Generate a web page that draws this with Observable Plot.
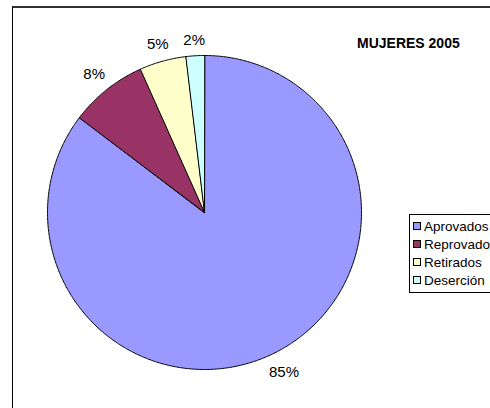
<!DOCTYPE html>
<html><head><meta charset="utf-8">
<script src="https://cdn.jsdelivr.net/npm/d3@7"></script>
<script src="https://cdn.jsdelivr.net/npm/@observablehq/plot@0.6"></script>
<style>
body{margin:0;background:#fff;overflow:hidden;font-family:"Liberation Sans",Arial,sans-serif;}
#wrap{position:relative;width:490px;height:408px;overflow:hidden;background:#fff;}
#wrap svg{position:absolute;left:0;top:0;}
#frame{position:absolute;left:12px;top:6px;width:600px;height:600px;border-left:1px solid #000;border-top:2px solid #333;}
#title{position:absolute;left:357px;top:35px;font-size:14px;font-weight:bold;line-height:16px;white-space:nowrap;color:#000;}
#legend{position:absolute;left:409px;top:214px;width:80px;height:75px;border:1px solid #000;border-right:none;background:#fff;overflow:hidden;padding-top:2px;box-sizing:content-box;}
.row{display:flex;align-items:center;height:18px;white-space:nowrap;font-size:13.5px;color:#000;}
.sw{width:6px;height:6px;border:1px solid #000;margin-left:3px;margin-right:3px;flex:none;}
</style></head><body>
<div id="wrap"><div id="frame"></div></div>
<script>
const categories = ["Aprovados", "Reprovado", "Retirados", "Deserción"];
const values = [85.3, 8.0, 4.8, 1.9];
const labels = ["85%", "8%", "5%", "2%"];
const colors = ["#9999FF", "#993366", "#FFFFCC", "#CCFFFF"];
const title = "MUJERES 2005";

const W = 490, H = 408, cx = 204, cy = 212, R = 157;
const total = d3.sum(values);
let acc = 0;
const slices = categories.map((c, i) => {
  const a0 = acc / total * 2 * Math.PI;
  acc += values[i];
  const a1 = acc / total * 2 * Math.PI;
  return {category: c, a0, a1, label: labels[i]};
});
const pts = [];
for (const s of slices) {
  pts.push({category: s.category, x: 0, y: 0});
  const n = Math.max(2, Math.ceil((s.a1 - s.a0) / (Math.PI / 360)));
  for (let k = 0; k <= n; k++) {
    const a = s.a0 + (s.a1 - s.a0) * k / n;
    pts.push({category: s.category, x: Math.sin(a), y: Math.cos(a)});
  }
}
const labelData = slices.map(s => {
  const m = (s.a0 + s.a1) / 2;
  const w = s.label.length * 10, h = 15;
  const d = 1 + (8 + Math.abs(Math.sin(m)) * w / 2 + Math.abs(Math.cos(m)) * h / 2) / R;
  return {label: s.label, x: Math.sin(m) * d, y: Math.cos(m) * d};
});

const plot = Plot.plot({
  width: W, height: H, margin: 0,
  style: {fontFamily: "'Liberation Sans', Arial, sans-serif", background: "transparent"},
  x: {domain: [-cx / R, (W - cx) / R], axis: null},
  y: {domain: [-(H - cy) / R, cy / R], axis: null},
  color: {domain: categories, range: colors},
  marks: [
    Plot.line(pts, {x: "x", y: "y", z: "category", fill: "category", stroke: "#000", strokeWidth: 1, curve: "linear-closed", strokeLinejoin: "round"}),
    Plot.text(labelData, {x: "x", y: "y", text: "label", fontSize: 15, fill: "#000"})
  ]
});
const wrap = document.getElementById("wrap");
wrap.insertBefore(plot, wrap.firstChild);

const t = document.createElement("div");
t.id = "title"; t.textContent = title; wrap.appendChild(t);

const lg = document.createElement("div");
lg.id = "legend";
categories.forEach((c, i) => {
  const r = document.createElement("div"); r.className = "row";
  const sw = document.createElement("span"); sw.className = "sw"; sw.style.background = colors[i];
  const tx = document.createElement("span"); tx.textContent = c;
  r.appendChild(sw); r.appendChild(tx); lg.appendChild(r);
});
wrap.appendChild(lg);
</script>
</body></html>
